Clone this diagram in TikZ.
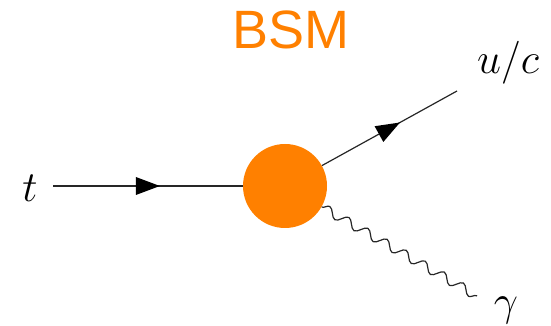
\RequirePackage{fix-cm}
\documentclass[tikz,border=0pt]{standalone}
\usepackage{fontspec}
\setsansfont{Liberation Sans}
\usetikzlibrary{decorations.markings,decorations.pathmorphing}

\definecolor{bsmorange}{RGB}{255,128,0}

\tikzset{
    fermion/.style={draw=black!85, line width=1.2pt, postaction={decorate},
        decoration={markings, mark=at position 0.5 with {
            \fill[black] (-12pt,-9pt) -- (12pt,0pt) -- (-12pt,9pt) -- cycle;}}},
    photon/.style={draw=black!85, line width=1.2pt,
        decorate, decoration={snake, segment length=22pt, amplitude=4.5pt}},
    leg/.style={inner sep=0pt, font=\fontsize{43}{50}\selectfont},
}

\begin{document}
\begin{tikzpicture}[x=1pt, y=1pt]
    \useasboundingbox (0,0) rectangle (551,326);
    % vertex and external legs
    \node[circle, fill=bsmorange, minimum size=84pt, inner sep=0pt] (blob) at (285,140) {};
    \coordinate (tin) at (53,140);
    \coordinate (qout) at (457,235);
    \coordinate (gout) at (477,30);
    \node[leg] (tlab) at (30,138) {$t$};
    \node[leg] (qlab) at (508,263) {$u/c$};
    \node[leg] (glab) at (506,16) {$\gamma$};
    \node[inner sep=0pt, text=bsmorange, font=\fontsize{54}{60}\sffamily] (bsm) at (291,296) {BSM};
    \path (tin) edge[fermion] (blob);
    \path (blob) edge[fermion] (qout);
    \draw[photon] (blob) -- (gout);
\end{tikzpicture}
\end{document}
